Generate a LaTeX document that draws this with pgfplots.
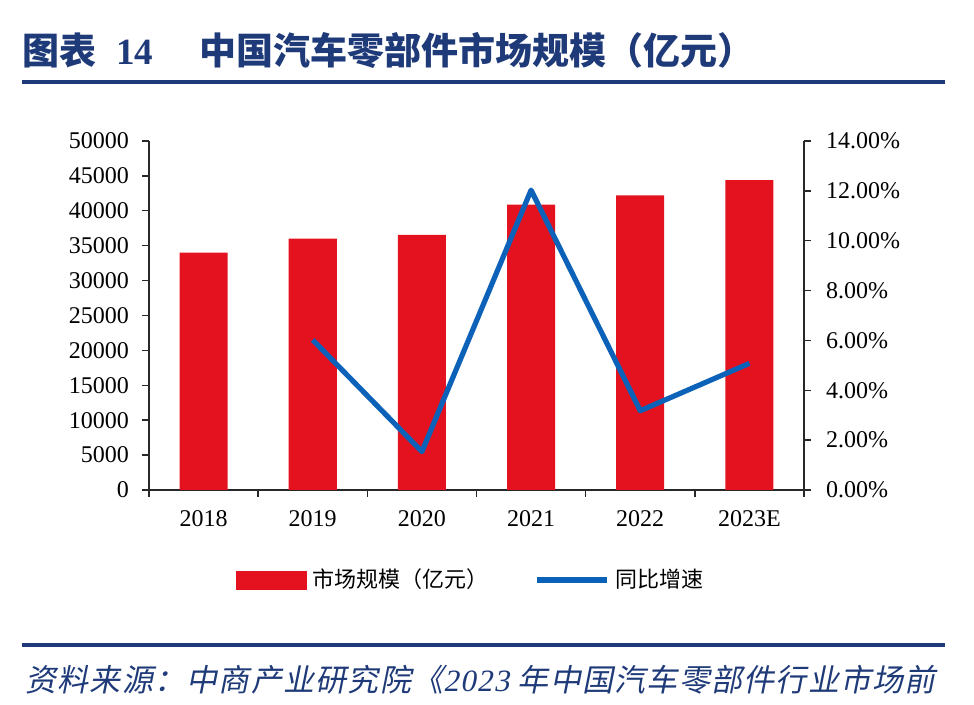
\documentclass[border=0pt]{standalone}
\usepackage{fontspec}
\setmainfont{Liberation Serif}
\newfontfamily\cjk{Noto Sans CJK SC}
\newfontfamily\cjkit[FakeSlant=0.2,LetterSpace=4]{Noto Sans CJK SC}
\newfontfamily\serifit[FakeSlant=0.2,LetterSpace=4]{Liberation Serif}
\usepackage{pgfplots}
\pgfplotsset{compat=1.18}

\definecolor{titleblue}{RGB}{31,58,120}
\definecolor{barred}{RGB}{228,18,30}
\definecolor{lineblue}{RGB}{12,98,184}
\definecolor{axisgray}{RGB}{40,40,40}

% market size (100 million yuan) and year-on-year growth (%)
\pgfplotstableread{
x size
0 34000
1 36000
2 36550
3 40900
4 42200
5 44400
}\sizedata
\pgfplotstableread{
x growth
1 6.02
2 1.54
3 12.03
4 3.18
5 5.08
}\growthdata

\begin{document}
\begin{tikzpicture}
\path[use as bounding box] (0,0) rectangle (487pt,352.5pt);

% title and rules
\node[anchor=west, text=titleblue, inner sep=0pt] at (11pt,327pt)
  {\fontsize{18.5}{20}\selectfont\cjk\bfseries 图表\hspace{10pt}\rmfamily\bfseries 14\hspace{23pt}\cjk\bfseries 中国汽车零部件市场规模（亿元）};
\draw[titleblue, line width=1.6pt] (11pt,311.5pt) -- (472.5pt,311.5pt);
\draw[titleblue, line width=1.6pt] (11pt,30pt) -- (472.5pt,30pt);
\node[anchor=west, text=titleblue, inner sep=0pt] at (12.5pt,12.5pt)
  {\fontsize{15.5}{17}\selectfont\cjkit 资料来源：中商产业研究院《\serifit 2023 \cjkit 年中国汽车零部件行业市场前};

\pgfplotsset{
  every axis/.append style={
    scale only axis, width=327.5pt, height=174.5pt,
    at={(74.5pt,107.5pt)}, anchor=south west,
    xmin=-0.5, xmax=5.5,
    tick align=outside, major tick length=3.5pt,
    axis line style={axisgray, line width=0.7pt},
    tick style={axisgray, line width=0.7pt},
    /pgf/number format/assume math mode=true,
    ticklabel style={font=\fontsize{12}{14}\selectfont},
  },
}

\begin{axis}[
  axis x line*=bottom, axis y line*=left,
  ymin=0, ymax=50000,
  ytick={0,5000,...,50000},
  scaled y ticks=false,
  /pgf/number format/1000 sep={},
  xtick={-0.5,0.5,1.5,2.5,3.5,4.5,5.5},
  x tick label as interval,
  xticklabels={2018,2019,2020,2021,2022,2023E},
  xticklabel style={yshift=-3pt},
  yticklabel style={xshift=-3pt},
]
\addplot[ybar, bar width=24pt, fill=barred, draw=none] table[x=x, y=size] {\sizedata};
\end{axis}

\begin{axis}[
  axis x line=none, axis y line*=right,
  ymin=0, ymax=14,
  ytick={0,2,...,14},
  yticklabel={\pgfmathprintnumber[fixed,fixed zerofill,precision=2]{\tick}\%},
  yticklabel style={xshift=4pt},
  legend style={at={(0.4946,-0.258)}, anchor=center, draw=none, fill=none,
    legend columns=2, font=\fontsize{11}{13}\selectfont\cjk,
    nodes={inner xsep=3pt},
    /tikz/every even column/.append style={column sep=20pt}},
]
\addlegendimage{legend image code/.code={\fill[barred] (0pt,-4.5pt) rectangle (35pt,4.5pt);}}
\addlegendentry{市场规模（亿元）}
\addplot[lineblue, line width=2.6pt, line join=round, mark=none,
  legend image code/.code={\draw[lineblue, line width=2.6pt] (0pt,0pt) -- (35pt,0pt);}]
  table[x=x, y=growth] {\growthdata};
\addlegendentry{同比增速}
\end{axis}
\end{tikzpicture}
\end{document}
